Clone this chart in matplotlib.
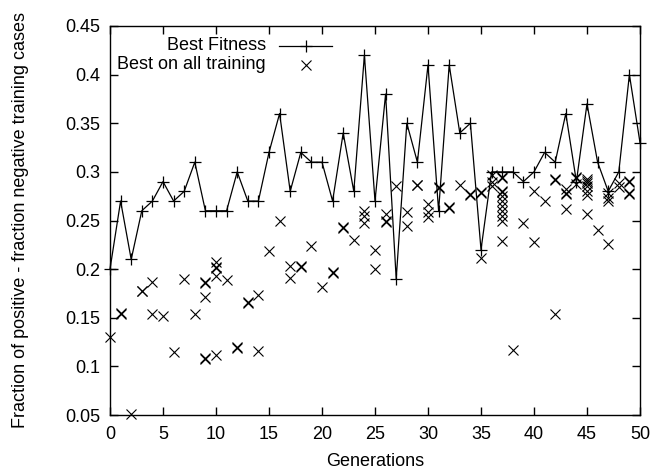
import numpy as np
import matplotlib.pyplot as plt

plt.rcParams['font.family'] = ['Liberation Sans', 'DejaVu Sans']

# best fitness per generation
generations = list(range(51))
best_fitness = [0.20, 0.27, 0.21, 0.26, 0.27, 0.29, 0.27, 0.28, 0.31, 0.26,
                0.26, 0.26, 0.30, 0.27, 0.27, 0.32, 0.36, 0.28, 0.32, 0.31,
                0.31, 0.27, 0.34, 0.28, 0.42, 0.27, 0.38, 0.19, 0.35, 0.31,
                0.41, 0.26, 0.41, 0.34, 0.35, 0.22, 0.30, 0.30, 0.30, 0.29,
                0.30, 0.32, 0.31, 0.36, 0.29, 0.37, 0.31, 0.28, 0.30, 0.40,
                0.33]

# best on all training: (generation, value) pairs, several per generation
all_train_gen = [0, 1, 1, 2, 3, 3, 4, 4, 5, 6, 7, 8,
                 9, 9, 9, 9, 9, 10, 10, 10, 10, 10, 11, 12, 12,
                 13, 13, 14, 14, 15, 16, 17, 17, 18, 18, 19, 20, 21, 21,
                 22, 22, 23, 24, 24, 24, 25, 25, 26, 26, 26, 27, 28, 28,
                 29, 29, 30, 30, 30, 31, 31, 32, 32, 33, 34, 34, 35, 35, 35,
                 36, 36, 36, 37, 37, 37, 37, 37, 37, 37, 37, 37, 37, 37,
                 38, 39, 40, 40, 41, 42, 42, 42, 43, 43, 43, 43,
                 44, 44, 44, 45, 45, 45, 45, 45, 45, 45, 46,
                 47, 47, 47, 47, 48, 48, 49, 49, 49, 49]
all_train_val = [0.130, 0.154, 0.155, 0.051, 0.177, 0.178, 0.187, 0.154, 0.152, 0.115, 0.190, 0.154,
                 0.186, 0.187, 0.171, 0.108, 0.109, 0.207, 0.202, 0.201, 0.193, 0.112, 0.189, 0.119, 0.120,
                 0.165, 0.166, 0.173, 0.116, 0.219, 0.250, 0.203, 0.191, 0.202, 0.203, 0.224, 0.182, 0.196, 0.197,
                 0.242, 0.243, 0.230, 0.260, 0.255, 0.247, 0.220, 0.200, 0.257, 0.249, 0.248, 0.285, 0.259, 0.244,
                 0.287, 0.286, 0.267, 0.259, 0.254, 0.284, 0.283, 0.263, 0.264, 0.286, 0.276, 0.277, 0.279, 0.278, 0.211,
                 0.297, 0.290, 0.285, 0.295, 0.294, 0.280, 0.279, 0.275, 0.270, 0.265, 0.260, 0.255, 0.250, 0.229,
                 0.117, 0.247, 0.280, 0.228, 0.270, 0.293, 0.292, 0.154, 0.282, 0.278, 0.277, 0.262,
                 0.295, 0.294, 0.288, 0.293, 0.291, 0.289, 0.285, 0.280, 0.276, 0.257, 0.240,
                 0.278, 0.273, 0.270, 0.226, 0.289, 0.284, 0.290, 0.291, 0.278, 0.277]

x_ticks = [0, 5, 10, 15, 20, 25, 30, 35, 40, 45, 50]
y_ticks = [0.05, 0.1, 0.15, 0.2, 0.25, 0.3, 0.35, 0.4, 0.45]
y_tick_labels = ['0.05', '0.1', '0.15', '0.2', '0.25', '0.3', '0.35', '0.4', '0.45']

fs = 13

fig = plt.figure(figsize=(6.7, 4.75), dpi=100)
ax = fig.add_axes([110 / 670, 60 / 475, 530 / 670, 389 / 475])

ax.plot(generations, best_fitness, color='black', lw=0.9, marker='+',
        markersize=8, markeredgewidth=0.9, clip_on=False, zorder=3)
ax.plot(all_train_gen, all_train_val, linestyle='none', color='black',
        marker='x', markersize=6.5, markeredgewidth=0.8, clip_on=False, zorder=3)

ax.set_xlim(0, 50)
ax.set_ylim(0.05, 0.45)
ax.set_xticks(x_ticks)
ax.set_yticks(y_ticks)
ax.set_yticklabels(y_tick_labels)
ax.tick_params(direction='in', length=6, width=1, top=True, right=True,
               labelsize=fs, colors='black')
ax.tick_params(axis='x', pad=8)
ax.tick_params(axis='y', pad=7)
for s in ax.spines.values():
    s.set_linewidth(1)

ax.set_xlabel('Generations', fontsize=fs, va='top')
ax.xaxis.set_label_coords(0.5, -0.097)
ax.set_ylabel('Fraction of positive - fraction negative training cases',
              fontsize=fs)
ax.yaxis.set_label_coords(-0.153, 0.5)

# gnuplot-style key: right aligned text, sample to the right
ax.text(0.294, 0.949, 'Best Fitness', transform=ax.transAxes, ha='right',
        va='center', fontsize=fs)
ax.text(0.294, 0.901, 'Best on all training', transform=ax.transAxes,
        ha='right', va='center', fontsize=fs)
ax.plot([0.319, 0.419], [0.949, 0.949], transform=ax.transAxes, color='black', lw=0.9)
ax.plot([0.369], [0.949], transform=ax.transAxes, color='black', marker='+',
        markersize=8, markeredgewidth=0.9)
ax.plot([0.369], [0.901], transform=ax.transAxes, color='black', marker='x',
        markersize=6.5, markeredgewidth=0.8)

fig.savefig('out.png', dpi=100)
